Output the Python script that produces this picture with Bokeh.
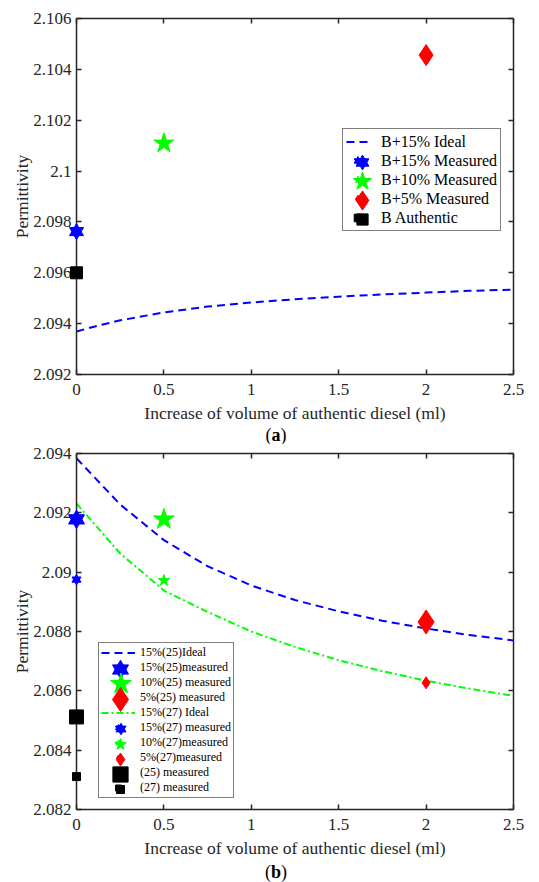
from bokeh.plotting import figure
from bokeh.layouts import column
from bokeh.models import Range1d, LinearAxis, FixedTicker, Legend, LegendItem, Div
from bokeh.core.properties import value
from bokeh.embed import file_html
from bokeh.resources import INLINE

# ---------------- shared axis text ----------------
x_ticks = [0, 0.5, 1, 1.5, 2, 2.5]
x_tick_labels = ["0", "0.5", "1", "1.5", "2", "2.5"]
x_label = "Increase of volume of authentic diesel (ml)"
y_label = "Permittivity"

# ---------------- panel (a) data ----------------
a_y_ticks = [2.092, 2.094, 2.096, 2.098, 2.1, 2.102, 2.104, 2.106]
a_y_tick_labels = ["2.092", "2.094", "2.096", "2.098", "2.1", "2.102", "2.104", "2.106"]
a_curve_x = [0, 0.1, 0.25, 0.5, 0.75, 1.0, 1.25, 1.5, 1.75, 2.0, 2.25, 2.5]
a_ideal_15 = [2.09369, 2.09388, 2.09413, 2.09444, 2.09467, 2.09483, 2.09496,
              2.09506, 2.09515, 2.09522, 2.09529, 2.09534]
a_meas15_x = [0]
a_meas15_y = [2.09762]
a_meas10_x = [0.5]
a_meas10_y = [2.10109]
a_meas5_x = [2]
a_meas5_y = [2.10456]
a_auth_x = [0]
a_auth_y = [2.09600]
a_legend_labels = ["B+15% Ideal", "B+15% Measured", "B+10% Measured",
                   "B+5% Measured", "B Authentic"]

# ---------------- panel (b) data ----------------
b_y_ticks = [2.082, 2.084, 2.086, 2.088, 2.09, 2.092, 2.094]
b_y_tick_labels = ["2.082", "2.084", "2.086", "2.088", "2.09", "2.092", "2.094"]
b_curve_x = [0, 0.25, 0.5, 0.75, 1.0, 1.25, 1.5, 1.75, 2.0, 2.25, 2.5]
b_ideal_15_25 = [2.09384, 2.09228, 2.09108, 2.09020, 2.08955, 2.08906,
                 2.08868, 2.08836, 2.08810, 2.08788, 2.08770]
b_ideal_15_27 = [2.09231, 2.09063, 2.08938, 2.08866, 2.08800, 2.08748,
                 2.08703, 2.08666, 2.08634, 2.08607, 2.08583]
b_15_x = [0]
b_15_25 = [2.09178]
b_15_27 = [2.08975]
b_10_x = [0.5]
b_10_25 = [2.09178]
b_10_27 = [2.08972]
b_5_x = [2]
b_5_25 = [2.08832]
b_5_27 = [2.08627]
b_0_x = [0]
b_0_25 = [2.08512]
b_0_27 = [2.08311]
b_legend_labels = ["15%(25)Ideal", "15%(25)measured", "10%(25) measured",
                   "5%(25) measured", "15%(27) Ideal", "15%(27) measured",
                   "10%(27)measured", "5%(27)measured", "(25) measured",
                   "(27) measured"]

# ---------------- styling ----------------
SERIF = "Liberation Serif"
INK = "#262626"
BLUE = "#0000ff"
GREEN = "#00ff00"
RED = "#ff0000"
BLACK = "#000000"
FIG_W = 530


def base_fig(height, top, bottom, y_lo, y_hi, y_ticks, y_labels):
    p = figure(width=FIG_W, height=height, x_range=Range1d(0, 2.5),
               y_range=Range1d(y_lo, y_hi), output_backend="svg",
               toolbar_location=None, tools="",
               min_border_left=76, min_border_right=FIG_W - 76 - 437,
               min_border_top=top, min_border_bottom=bottom,
               x_axis_label=x_label, y_axis_label=y_label)
    p.grid.visible = False
    p.outline_line_color = None
    p.background_fill_color = "white"
    p.border_fill_color = "white"
    bottom_ax = p.below[0]
    left_ax = p.left[0]
    top_ax = LinearAxis()
    right_ax = LinearAxis()
    p.add_layout(top_ax, "above")
    p.add_layout(right_ax, "right")
    for ax in (bottom_ax, top_ax):
        ax.ticker = FixedTicker(ticks=x_ticks)
        ax.major_label_overrides = {t: l for t, l in zip(x_ticks, x_tick_labels)}
    for ax in (left_ax, right_ax):
        ax.ticker = FixedTicker(ticks=y_ticks)
        ax.major_label_overrides = {t: l for t, l in zip(y_ticks, y_labels)}
    for ax in (bottom_ax, top_ax, left_ax, right_ax):
        ax.axis_line_color = INK
        ax.axis_line_width = 1.5
        ax.major_tick_in = 5
        ax.major_tick_out = 0
        ax.major_tick_line_color = INK
        ax.major_tick_line_width = 1.5
        ax.minor_tick_line_color = None
        ax.major_label_text_font = SERIF
        ax.major_label_text_font_size = "17px"
        ax.major_label_text_color = INK
        ax.axis_label_text_font = SERIF
        ax.axis_label_text_font_size = "17.5px"
        ax.axis_label_text_font_style = "normal"
        ax.axis_label_text_color = INK
    bottom_ax.major_label_standoff = 9
    bottom_ax.axis_label_standoff = 5
    left_ax.major_label_standoff = 5
    left_ax.axis_label_standoff = -2
    for ax in (top_ax, right_ax):
        ax.major_label_text_font_size = "0px"
        ax.major_label_text_color = None
        ax.major_label_standoff = 0
        ax.axis_label = None
    return p


def hexagram(p, x, y, size, color):
    r1 = p.scatter(x, y, marker="triangle", size=size, fill_color=color,
                   line_color=color, level="overlay")
    r2 = p.scatter(x, y, marker="inverted_triangle", size=size, fill_color=color,
                   line_color=color, level="overlay")
    return [r1, r2]


def mark(p, x, y, marker, size, color):
    return [p.scatter(x, y, marker=marker, size=size, fill_color=color,
                      line_color=color, level="overlay")]


def add_legend(p, labels, renderer_lists, marker_sizes, vx, vy, row_h, pad,
               glyph_w, standoff, font_size, marker_dx):
    items = [LegendItem(label=value(lbl), renderers=rs)
             for lbl, rs in zip(labels, renderer_lists)]
    leg = Legend(items=items, location=(vx, vy), orientation="vertical",
                 glyph_width=glyph_w, glyph_height=row_h, label_height=row_h,
                 spacing=0, padding=pad, margin=0, label_standoff=standoff,
                 label_text_font=SERIF, label_text_font_size=font_size,
                 label_text_color=BLACK, border_line_color=BLACK,
                 border_line_width=1.5, background_fill_color="white",
                 background_fill_alpha=1.0)
    p.add_layout(leg)
    n = len(labels)
    height = 2 * pad + n * row_h
    cx = vx + pad + glyph_w / 2 + marker_dx
    # full-size marker keys drawn on top of the legend rows
    for i, (rs, sz) in enumerate(zip(renderer_lists, marker_sizes)):
        if sz is None:
            continue
        cy = vy + height - pad - row_h * (i + 0.5)
        g = int(round(sz / 0.4))
        key = Legend(items=[LegendItem(label=value(""), renderers=rs)],
                     location=(cx - g / 2, cy - g / 2), glyph_width=g,
                     glyph_height=g, label_width=0, label_height=0,
                     label_standoff=0, padding=0, spacing=0, margin=0,
                     label_text_font_size="0px", label_text_color=None,
                     label_text_alpha=0, border_line_color=None,
                     background_fill_color=None, background_fill_alpha=0)
        p.add_layout(key)


def caption(letter, h):
    return Div(text="(<b>%s</b>)" % letter, width=40, height=h,
               margin=(0, 0, 0, 256),
               styles={"text-align": "center", "font-family": SERIF,
                       "font-size": "18px", "line-height": "%dpx" % h,
                       "color": "#000000", "overflow": "visible"})


# ---------------- panel (a) ----------------
pa = base_fig(428, 18, 54, 2.092, 2.106, a_y_ticks, a_y_tick_labels)
la = pa.line(a_curve_x, a_ideal_15, line_color=BLUE, line_width=2, line_dash="8 5")
ra15 = hexagram(pa, a_meas15_x, a_meas15_y, 14, BLUE)
ra10 = mark(pa, a_meas10_x, a_meas10_y, "star", 21, GREEN)
ra5 = mark(pa, a_meas5_x, a_meas5_y, "diamond", 21, RED)
ra0 = mark(pa, a_auth_x, a_auth_y, "square", 12, BLACK)
add_legend(pa, a_legend_labels, [[la], ra15, ra10, ra5, ra0],
           [None, 13, 19, 19, 11], vx=266, vy=143, row_h=19, pad=3,
           glyph_w=23, standoff=12, font_size="16px", marker_dx=5)

# ---------------- panel (b) ----------------
pb = base_fig(420, 10, 54, 2.082, 2.094, b_y_ticks, b_y_tick_labels)
l25 = pb.line(b_curve_x, b_ideal_15_25, line_color=BLUE, line_width=2, line_dash="8 5")
l27 = pb.line(b_curve_x, b_ideal_15_27, line_color=GREEN, line_width=2,
              line_dash="7 3 2 3")
r15_25 = hexagram(pb, b_15_x, b_15_25, 16, BLUE)
r10_25 = mark(pb, b_10_x, b_10_25, "star", 22, GREEN)
r5_25 = mark(pb, b_5_x, b_5_25, "diamond", 24, RED)
r15_27 = hexagram(pb, b_15_x, b_15_27, 9, BLUE)
r10_27 = mark(pb, b_10_x, b_10_27, "star", 12, GREEN)
r5_27 = mark(pb, b_5_x, b_5_27, "diamond", 12, RED)
r0_25 = mark(pb, b_0_x, b_0_25, "square", 14, BLACK)
r0_27 = mark(pb, b_0_x, b_0_27, "square", 8, BLACK)
add_legend(pb, b_legend_labels,
           [[l25], r15_25, r10_25, r5_25, [l27], r15_27, r10_27, r5_27, r0_25, r0_27],
           [None, 16, 22, 24, None, 10, 12, 13, 15, 8],
           vx=22, vy=11, row_h=15, pad=2, glyph_w=34, standoff=5,
           font_size="12px", marker_dx=3)

layout = column(pa, caption("a", 15), pb, caption("b", 19), spacing=0)
open("out.html", "w").write(file_html(layout, INLINE))
